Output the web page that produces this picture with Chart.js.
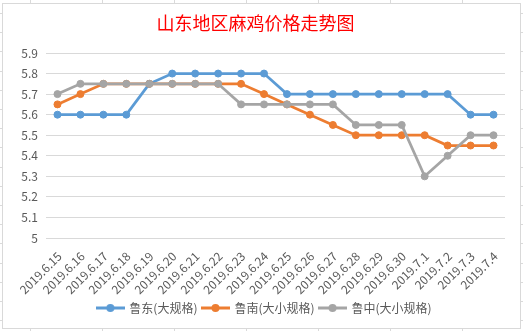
<!DOCTYPE html>
<html>
<head>
<meta charset="utf-8">
<script src="https://cdn.jsdelivr.net/npm/chart.js@4"></script>
<style>
  html, body { margin: 0; padding: 0; background: #fff; }
  #wrap { width: 523px; height: 331px; }
</style>
</head>
<body>
<div id="wrap"><canvas id="chart" width="523" height="331"></canvas></div>
<script>
const labels = ['2019.6.15', '2019.6.16', '2019.6.17', '2019.6.18', '2019.6.19', '2019.6.20', '2019.6.21',
  '2019.6.22', '2019.6.23', '2019.6.24', '2019.6.25', '2019.6.26', '2019.6.27', '2019.6.28', '2019.6.29',
  '2019.6.30', '2019.7.1', '2019.7.2', '2019.7.3', '2019.7.4'];
const ludong = [5.6, 5.6, 5.6, 5.6, 5.75, 5.8, 5.8, 5.8, 5.8, 5.8, 5.7, 5.7, 5.7, 5.7, 5.7, 5.7, 5.7, 5.7, 5.6, 5.6];
const lunan = [5.65, 5.7, 5.75, 5.75, 5.75, 5.75, 5.75, 5.75, 5.75, 5.7, 5.65, 5.6, 5.55, 5.5, 5.5, 5.5, 5.5, 5.45, 5.45, 5.45];
const luzhong = [5.7, 5.75, 5.75, 5.75, 5.75, 5.75, 5.75, 5.75, 5.65, 5.65, 5.65, 5.65, 5.65, 5.55, 5.55, 5.55, 5.3, 5.4, 5.5, 5.5];

const fontFamily = '"Noto Sans CJK SC", "Noto Sans", sans-serif';
const textColor = '#595959';
const gridColor = '#d9d9d9';

// legend marker: short line with a dot in the middle
function makeMarker(color) {
  const c = document.createElement('canvas');
  c.width = 29; c.height = 10;
  const ctx = c.getContext('2d');
  ctx.strokeStyle = color;
  ctx.lineWidth = 3;
  ctx.beginPath(); ctx.moveTo(0, 5); ctx.lineTo(29, 5); ctx.stroke();
  ctx.fillStyle = color;
  ctx.beginPath(); ctx.arc(14.5, 5, 4, 0, Math.PI * 2); ctx.fill();
  return c;
}

// sheet gridlines outside the chart box + the chart box border
const sheetBackground = {
  id: 'sheetBackground',
  afterLayout(chart) {
    // legend sits a bit right of centre in the original
    chart.legend.left += 9;
    chart.legend.right += 9;
  },
  beforeDraw(chart) {
    const ctx = chart.ctx;
    ctx.save();
    ctx.fillStyle = '#fff';
    ctx.fillRect(0, 0, chart.width, chart.height);
    ctx.strokeStyle = '#dadada';
    ctx.lineWidth = 1;
    ctx.beginPath();
    [30, 102, 174, 246, 318, 390, 462].forEach(x => {
      ctx.moveTo(x + 0.5, 0); ctx.lineTo(x + 0.5, 3);
      ctx.moveTo(x + 0.5, 329); ctx.lineTo(x + 0.5, 331);
    });
    for (let y = 13; y < 331; y += 19.2) {
      const yy = Math.round(y) + 0.5;
      ctx.moveTo(0, yy); ctx.lineTo(2, yy);
      ctx.moveTo(521, yy); ctx.lineTo(523, yy);
    }
    ctx.stroke();
    ctx.strokeStyle = gridColor;
    ctx.strokeRect(2.5, 3.5, 518, 325);
    ctx.restore();
  }
};

const series = [
  { label: '鲁东(大规格)', data: ludong, color: '#5b9bd5', order: 3 },
  { label: '鲁南(大小规格)', data: lunan, color: '#ed7d31', order: 2 },
  { label: '鲁中(大小规格)', data: luzhong, color: '#a5a5a5', order: 1 },
];

const datasets = series.map(s => ({
  label: s.label,
  data: s.data,
  order: s.order,
  borderColor: s.color,
  backgroundColor: s.color,
  pointBackgroundColor: s.color,
  pointBorderColor: s.color,
  borderWidth: 2.75,
  pointRadius: 3.5,
  pointBorderWidth: 1,
  pointStyle: 'circle',
  tension: 0,
}));

new Chart(document.getElementById('chart'), {
  type: 'line',
  data: { labels, datasets },
  plugins: [sheetBackground],
  options: {
    responsive: false,
    animation: false,
    events: [],
    layout: { padding: { left: 6, right: 18, top: 0, bottom: 7 } },
    plugins: {
      title: {
        display: true,
        text: '山东地区麻鸡价格走势图',
        color: '#ff0000',
        font: { family: fontFamily, size: 18, weight: 'normal' },
        padding: { top: 12, bottom: 19.4 },
      },
      legend: {
        position: 'bottom',
        labels: {
          color: textColor,
          font: { family: fontFamily, size: 12 },
          usePointStyle: true,
          pointStyleWidth: 26,
          padding: 5,
          generateLabels(chart) {
            return chart.data.datasets.map((ds, i) => ({
              text: ds.label,
              fontColor: textColor,
              pointStyle: makeMarker(series[i].color),
              datasetIndex: i,
              hidden: false,
              lineWidth: 0,
            }));
          },
        },
      },
      tooltip: { enabled: false },
    },
    scales: {
      x: {
        offset: true,
        grid: { display: false },
        border: { display: false },
        ticks: {
          color: textColor,
          font: { family: fontFamily, size: 12 },
          autoSkip: false,
          minRotation: 45,
          maxRotation: 45,
          padding: 3,
          labelOffset: 2,
        },
        afterFit(scale) { scale.height = 59; },
      },
      y: {
        min: 5,
        max: 5.9,
        grid: { color: gridColor, drawTicks: false },
        border: { display: false },
        ticks: {
          stepSize: 0.1,
          color: textColor,
          font: { family: fontFamily, size: 12 },
          padding: 8,
          callback: (v) => String(Number(v.toFixed(1))),
        },
        afterFit(scale) { scale.width = 40; },
      },
    },
  },
});
</script>
</body>
</html>
